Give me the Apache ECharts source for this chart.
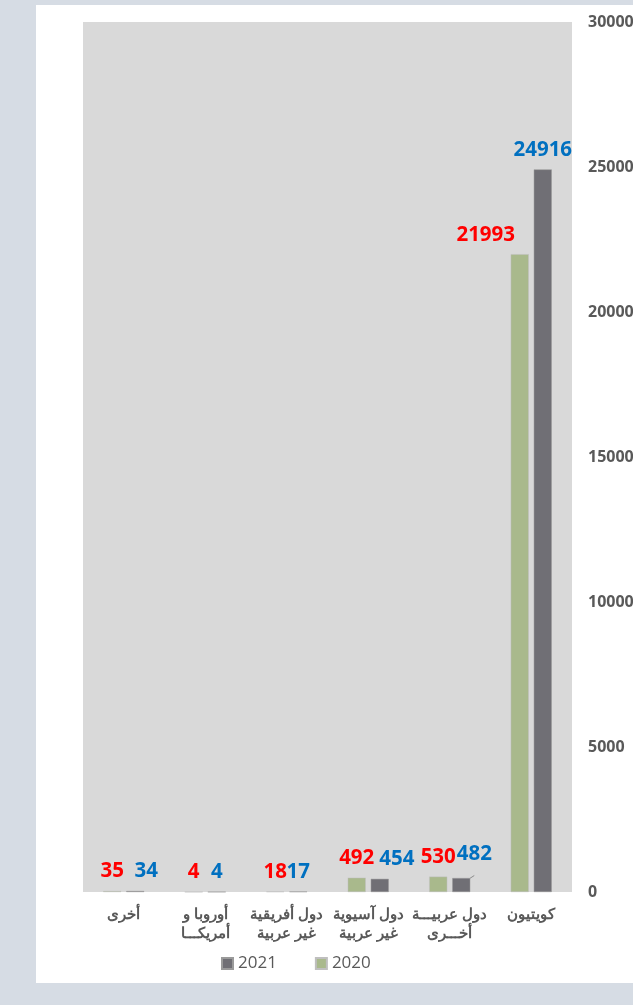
<!DOCTYPE html>
<html>
<head>
<meta charset="utf-8">
<script src="https://cdn.jsdelivr.net/npm/echarts@6/dist/echarts.min.js"></script>
<style>
  html, body { margin: 0; padding: 0; background: #d6dce4; }
  #chart { width: 633px; height: 1005px; }
</style>
</head>
<body>
<div id="chart"></div>
<script>
// categories, right to left as in the source
const categories = [
  'كويتيون',
  'دول عربيـــة\nأخـــرى',
  'دول آسيوية\nغير عربية',
  'دول أفريقية\nغير عربية',
  'أوروبا و\nأمريكـــا',
  'أخرى'
];
const values2020 = [21993, 530, 492, 18, 4, 35];
const values2021 = [24916, 482, 454, 17, 4, 34];
const yTicks = [0, 5000, 10000, 15000, 20000, 25000, 30000];

const numFont = '"Open Sans", sans-serif';

const myChart = echarts.init(document.getElementById('chart'));

// some labels sit off their bar in the original
const data2020 = values2020.map((v, i) => {
  if (i === 0) return { value: v, label: { offset: [-34, 0] } };
  return v;
});
const data2021 = values2021.map((v, i) => {
  if (i === 1) {
    return { value: v, label: { offset: [13, -4] }, labelLine: { show: true, lineStyle: { color: '#8c8c8c', width: 1 } } };
  }
  if (i === 2) return { value: v, label: { offset: [17, 0] } };
  if (i === 5) return { value: v, label: { offset: [11, 0] } };
  return v;
});

const option = {
  backgroundColor: '#d6dce4',
  animation: false,
  graphic: [
    { type: 'rect', silent: true, z: -10, shape: { x: 36, y: 5, width: 620, height: 978 }, style: { fill: '#ffffff' } }
  ],
  grid: {
    left: 83, right: 61, top: 22, bottom: 113,
    outerBoundsMode: 'none',
    containLabel: false,
    show: true, backgroundColor: '#d9d9d9', borderWidth: 0
  },
  legend: {
    data: ['2021', '2020'],
    left: 216, top: 950,
    itemWidth: 11, itemHeight: 11, itemGap: 38,
    icon: 'rect',
    textStyle: { fontFamily: numFont, fontSize: 17, color: '#595959' }
  },
  xAxis: {
    type: 'category',
    data: categories,
    inverse: true,
    axisLine: { show: false },
    axisTick: { show: false },
    axisLabel: {
      interval: 0,
      margin: 13,
      fontFamily: 'sans-serif',
      fontWeight: 'bold',
      fontSize: 15,
      lineHeight: 19,
      color: '#595959'
    }
  },
  yAxis: {
    type: 'value',
    position: 'right',
    min: 0, max: 30000, interval: 5000,
    splitLine: { show: false },
    axisLine: { show: false },
    axisTick: { show: false },
    axisLabel: {
      margin: 16,
      fontFamily: numFont,
      fontWeight: 'bold',
      fontSize: 16,
      color: '#595959',
      formatter: v => (yTicks.includes(v) ? String(v) : '')
    }
  },
  series: [
    {
      name: '2020',
      type: 'bar',
      data: data2020,
      barWidth: 18,
      barGap: '28%',
      itemStyle: { color: '#a9b98c', borderColor: '#bfbfbf', borderWidth: 0.5 },
      label: {
        show: true, position: 'top', distance: 9,
        fontFamily: numFont, fontWeight: 'bold', fontSize: 20.5, color: '#ff0000'
      }
    },
    {
      name: '2021',
      type: 'bar',
      data: data2021,
      barWidth: 18,
      itemStyle: { color: '#706f75', borderColor: '#9a9a9a', borderWidth: 0.5 },
      label: {
        show: true, position: 'top', distance: 9,
        fontFamily: numFont, fontWeight: 'bold', fontSize: 20.5, color: '#0070c0'
      }
    }
  ]
};

myChart.setOption(option);
</script>
</body>
</html>
